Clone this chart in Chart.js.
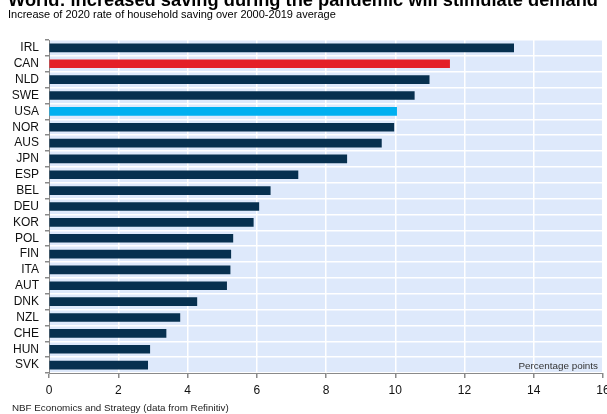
<!DOCTYPE html>
<html>
<head>
<meta charset="utf-8">
<script src="https://cdn.jsdelivr.net/npm/chart.js@4"></script>
<style>
  html, body { margin: 0; padding: 0; background: #fff; }
  #wrap { width: 607px; height: 414px; position: relative; }
</style>
</head>
<body>
<div id="wrap"><canvas id="myChart" width="607" height="414"></canvas></div>
<script>
const titleText = 'World: increased saving during the pandemic will stimulate demand';
const subtitleText = 'Increase of 2020 rate of household saving over 2000-2019 average';
const footerText = 'NBF Economics and Strategy (data from Refinitiv)';
const unitText = 'Percentage points';

const countries = ['IRL', 'CAN', 'NLD', 'SWE', 'USA', 'NOR', 'AUS', 'JPN', 'ESP', 'BEL',
                   'DEU', 'KOR', 'POL', 'FIN', 'ITA', 'AUT', 'DNK', 'NZL', 'CHE', 'HUN', 'SVK'];
const savingIncrease = [13.42, 11.57, 10.98, 10.55, 10.04, 9.96, 9.6, 8.6, 7.19, 6.39,
                        6.06, 5.9, 5.31, 5.25, 5.23, 5.13, 4.27, 3.78, 3.38, 2.91, 2.85];
const xTicks = [0, 2, 4, 6, 8, 10, 12, 14, 16];

const navy = '#07304f';
const barColors = countries.map(c => c === 'CAN' ? '#e41f27' : (c === 'USA' ? '#00b0f0' : navy));

const font = "'Liberation Sans', Arial, sans-serif";

// light blue plot background + header/footer text
const decor = {
    id: 'decor',
    beforeDraw(chart) {
        const { ctx, chartArea: a } = chart;
        ctx.save();
        ctx.fillStyle = '#dee9fb';
        ctx.fillRect(a.left, a.top, a.right - a.left, a.bottom - a.top);
        ctx.restore();
    },
    afterDraw(chart) {
        const { ctx, chartArea: a } = chart;
        ctx.save();
        ctx.fillStyle = '#000';
        ctx.textBaseline = 'alphabetic';
        ctx.font = 'bold 18.5px ' + font;
        ctx.fillText(titleText, 8, 5.5, 590);
        ctx.font = '11px ' + font;
        ctx.fillText(subtitleText, 8, 17.5);
        ctx.font = '9.8px ' + font;
        ctx.fillStyle = '#222';
        ctx.fillText(footerText, 12, 411);
        ctx.font = '9.9px ' + font;
        ctx.textAlign = 'right';
        ctx.fillStyle = '#333';
        ctx.fillText(unitText, 598, a.bottom - 4);
        ctx.restore();
    }
};

const ctx = document.getElementById('myChart').getContext('2d');
const myChart = new Chart(ctx, {
    type: 'bar',
    data: {
        labels: countries,
        datasets: [{
            data: savingIncrease,
            backgroundColor: barColors,
            barThickness: 8,
            borderWidth: 0
        }]
    },
    options: {
        indexAxis: 'y',
        responsive: false,
        animation: false,
        layout: { padding: { top: 40, right: 4, left: 0, bottom: 0 } },
        plugins: {
            legend: { display: false },
            tooltip: { enabled: false }
        },
        scales: {
            x: {
                min: 0,
                max: 16,
                afterBuildTicks(scale) {
                    scale.ticks = xTicks.map(v => ({ value: v }));
                },
                afterFit(scale) {
                    scale.height = 41;
                    scale.paddingLeft = 0;
                    scale.paddingRight = 0;
                },
                grid: {
                    color: '#ffffff',
                    lineWidth: 1.5,
                    tickColor: '#8a8a8a',
                    tickLength: 5
                },
                border: { color: '#8a8a8a', width: 1 },
                ticks: {
                    color: '#111',
                    font: { family: font, size: 12 },
                    padding: 5,
                    maxRotation: 0
                }
            },
            y: {
                afterFit(scale) {
                    scale.width = 49;
                    scale.paddingTop = 0;
                    scale.paddingBottom = 0;
                },
                grid: {
                    offset: true,
                    color: '#ffffff',
                    lineWidth: 1.5,
                    tickColor: '#8a8a8a',
                    tickLength: 4
                },
                border: { color: '#8a8a8a', width: 1 },
                ticks: {
                    color: '#111',
                    font: { family: font, size: 12 },
                    padding: 6,
                    autoSkip: false
                }
            }
        }
    },
    plugins: [decor]
});
</script>
</body>
</html>
